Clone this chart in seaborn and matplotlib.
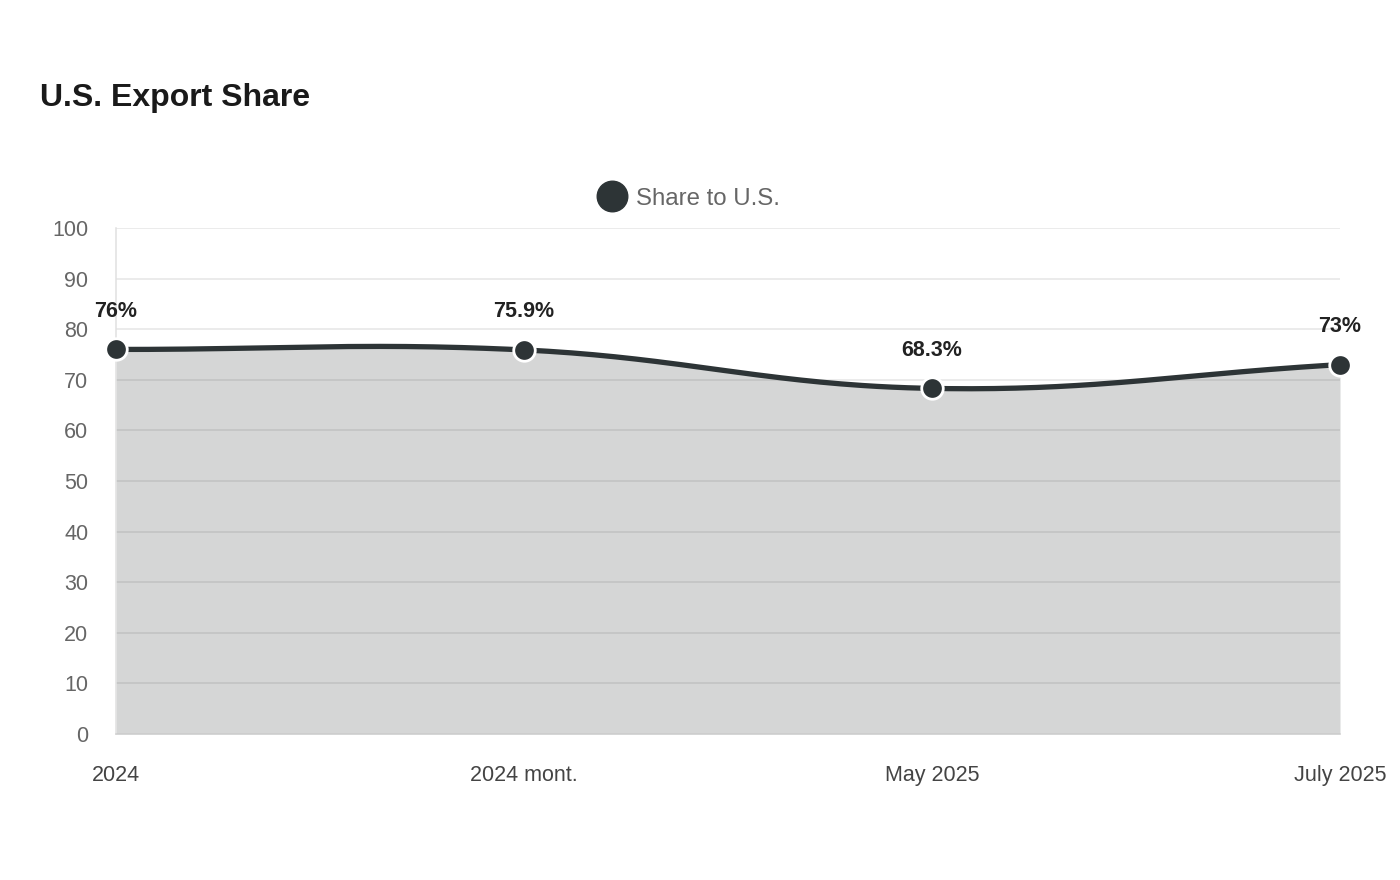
import numpy as np
import pandas as pd
import matplotlib.pyplot as plt
import seaborn as sns

# Chart data
periods = ['2024', '2024 mont.', 'May 2025', 'July 2025']
share_us = [76, 75.9, 68.3, 73]
value_labels = ['76%', '75.9%', '68.3%', '73%']

sns.set_theme(style='white')
plt.rcParams['font.family'] = ['Liberation Sans', 'DejaVu Sans']

LINE = '#2d3436'


def smooth_curve(xs, ys, tension=0.4, xscale=408.0, yscale=5.06, n=60):
    # bezier spline with control points like a tension-based line chart
    px = np.asarray(xs, float) * xscale
    py = np.asarray(ys, float) * yscale
    m = len(px)
    cp_prev, cp_next = [], []
    for i in range(m):
        p0 = (px[max(i - 1, 0)], py[max(i - 1, 0)])
        p1 = (px[i], py[i])
        p2 = (px[min(i + 1, m - 1)], py[min(i + 1, m - 1)])
        d01 = np.hypot(p1[0] - p0[0], p1[1] - p0[1])
        d12 = np.hypot(p2[0] - p1[0], p2[1] - p1[1])
        tot = d01 + d12
        s01 = d01 / tot if tot else 0
        s12 = d12 / tot if tot else 0
        fa, fb = tension * s01, tension * s12
        cp_prev.append((p1[0] - fa * (p2[0] - p0[0]), p1[1] - fa * (p2[1] - p0[1])))
        cp_next.append((p1[0] + fb * (p2[0] - p0[0]), p1[1] + fb * (p2[1] - p0[1])))
    out_x, out_y = [], []
    t = np.linspace(0, 1, n)
    for i in range(m - 1):
        a = np.array([px[i], py[i]])
        b = np.array(cp_next[i])
        c = np.array(cp_prev[i + 1])
        d = np.array([px[i + 1], py[i + 1]])
        pts = ((1 - t) ** 3)[:, None] * a + (3 * (1 - t) ** 2 * t)[:, None] * b \
            + (3 * (1 - t) * t ** 2)[:, None] * c + (t ** 3)[:, None] * d
        if i > 0:
            pts = pts[1:]
        out_x.extend(pts[:, 0] / xscale)
        out_y.extend(pts[:, 1] / yscale)
    return np.array(out_x), np.array(out_y)


x_idx = np.arange(len(periods))
cx, cy = smooth_curve(x_idx, share_us)
curve = pd.DataFrame({'x': cx, 'y': cy})
points = pd.DataFrame({'x': x_idx, 'y': share_us})

fig = plt.figure(figsize=(14, 8.8), dpi=100)
ax = fig.add_axes([116 / 1400, 1 - 734 / 880, (1340 - 116) / 1400, (734 - 228) / 880])

ax.set_xlim(0, len(periods) - 1)
ax.set_ylim(0, 100)
ax.set_yticks(range(0, 101, 10))
ax.yaxis.grid(True, color='#e6e6e6', linewidth=1.1)
ax.xaxis.grid(False)
ax.set_axisbelow(True)

ax.fill_between(cx, 0, cy, color=LINE, alpha=0.2, linewidth=0, zorder=1)
sns.lineplot(data=curve, x='x', y='y', color=LINE, linewidth=3.8, ax=ax,
             zorder=3, sort=False)
sns.scatterplot(data=points, x='x', y='y', color=LINE, s=240, edgecolor='white',
                linewidth=2, ax=ax, zorder=4, clip_on=False)

for xi, yi, lab in zip(x_idx, share_us, value_labels):
    ax.annotate(lab, (xi, yi), xytext=(0, 27.5), textcoords='offset points',
                ha='center', va='center', fontsize=15.5, fontweight='bold',
                color='#222222', annotation_clip=False)

ax.set_xticks(x_idx)
ax.set_xticklabels(periods)
ax.set_xlabel('')
ax.set_ylabel('')
ax.tick_params(axis='x', length=0, pad=22, labelsize=15.5, labelcolor='#444444')
ax.tick_params(axis='y', length=11, width=1.1, color='#e6e6e6', pad=9,
               labelsize=15.5, labelcolor='#666666')
for side in ['top', 'right']:
    ax.spines[side].set_visible(False)
ax.spines['left'].set_color('#e0e0e0')
ax.spines['left'].set_linewidth(1.1)
ax.spines['bottom'].set_color('#d0d0d0')
ax.spines['bottom'].set_linewidth(1.1)

# title and legend
fig.text(40 / 1400, 1 - 98 / 880, 'U.S. Export Share', fontsize=23, fontweight='bold',
         color='#1a1a1a', ha='left', va='center')
fig.lines.append(plt.Line2D([612 / 1400], [1 - 196 / 880], marker='o', markersize=22,
                            color=LINE, transform=fig.transFigure))
fig.text(636 / 1400, 1 - 199 / 880, 'Share to U.S.', fontsize=17.3, color='#666666',
         ha='left', va='center')

fig.savefig('out.png', dpi=100)
